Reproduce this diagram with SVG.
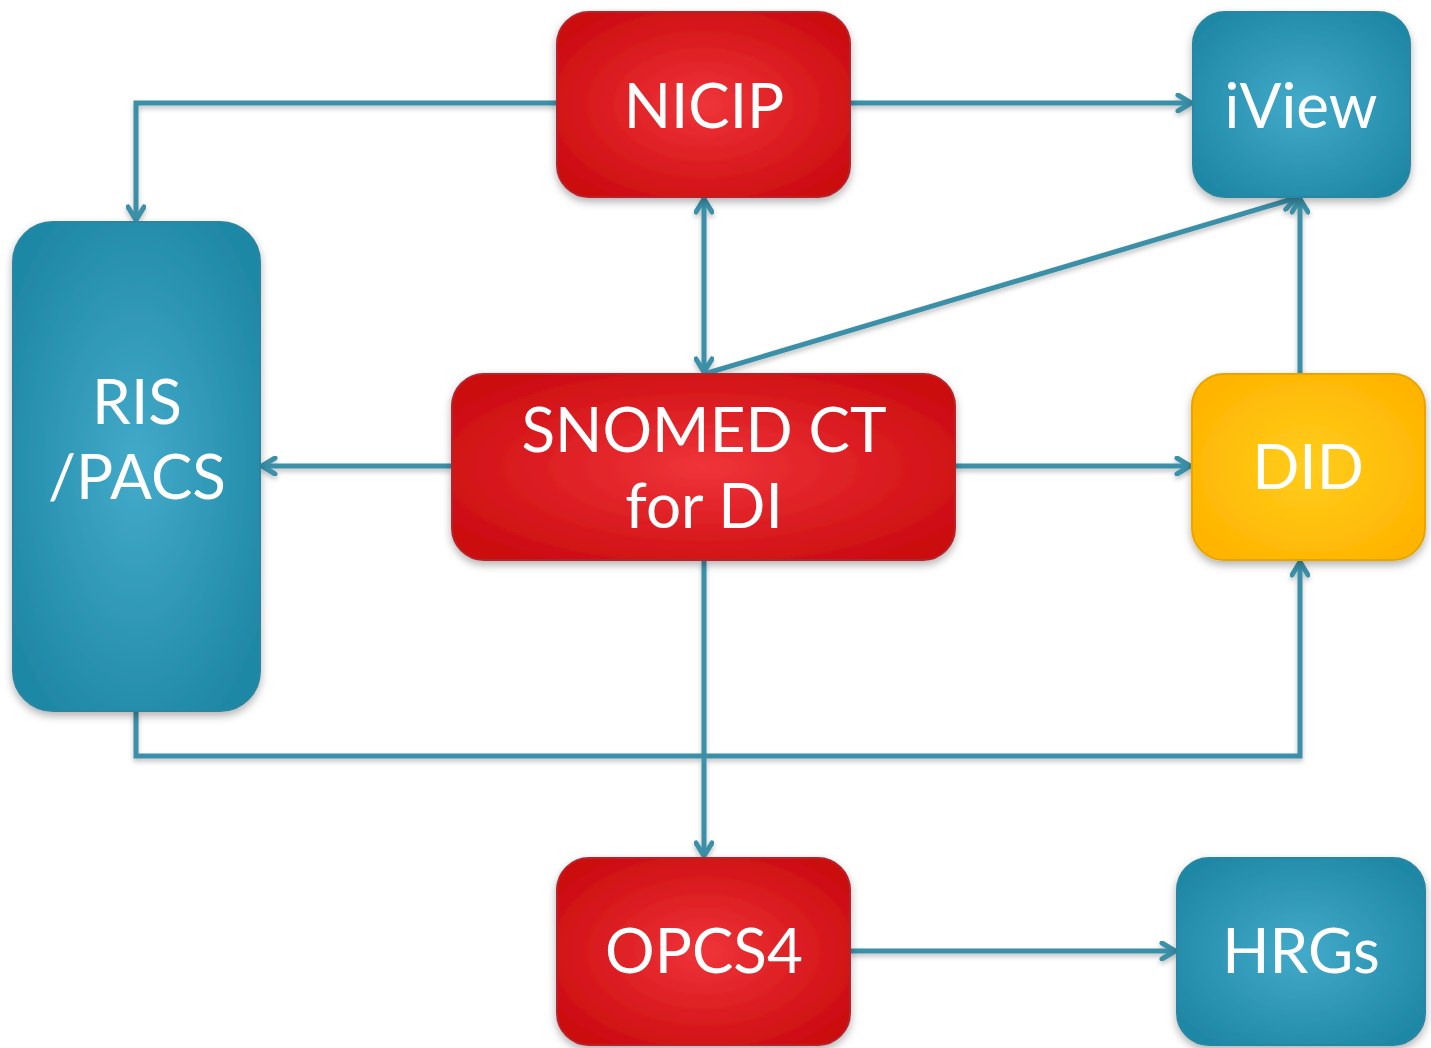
<svg xmlns="http://www.w3.org/2000/svg" width="1431" height="1048" viewBox="0 0 1431 1048">
<style>
.lbl{font-family:Lato,"Open Sans","Liberation Sans",sans-serif;font-size:62px;fill:#fff;text-anchor:middle}
.con{fill:none;stroke:#3a90a8;stroke-width:5}
.red{fill:url(#gRed);stroke:#b8232a;stroke-width:2}
.blue{fill:url(#gBlue);stroke:#2a86a0;stroke-width:2}
.yel{fill:url(#gYel);stroke:#e8a500;stroke-width:2}
</style>
<defs>
<radialGradient id="gRed" cx="0.5" cy="0.5" r="0.6"><stop offset="0" stop-color="#ef3439"/><stop offset="1" stop-color="#cc0c10"/></radialGradient>
<radialGradient id="gBlue" cx="0.5" cy="0.5" r="0.6"><stop offset="0" stop-color="#43aaca"/><stop offset="1" stop-color="#1f88a6"/></radialGradient>
<radialGradient id="gYel" cx="0.5" cy="0.5" r="0.6"><stop offset="0" stop-color="#ffcd1c"/><stop offset="1" stop-color="#ffb400"/></radialGradient>
<filter id="sh" x="-10%" y="-10%" width="120%" height="130%"><feDropShadow dx="0" dy="4" stdDeviation="4" flood-color="#000" flood-opacity="0.3"/></filter>
<filter id="lsh" x="-5%" y="-5%" width="110%" height="120%"><feDropShadow dx="0" dy="3" stdDeviation="2.5" flood-color="#000" flood-opacity="0.25"/></filter>
<marker id="ah" viewBox="0 0 20 20" refX="17" refY="10" markerWidth="20" markerHeight="20" markerUnits="userSpaceOnUse" orient="auto-start-reverse"><path d="M4,2 L17,10 L4,18" fill="none" stroke="#3a90a8" stroke-width="5" stroke-linecap="round" stroke-linejoin="round"/></marker>
</defs>
<g id="connectors" filter="url(#lsh)">
<path class="con" d="M557,103 H136 V220" marker-end="url(#ah)"/>
<path class="con" d="M850,103 H1191" marker-end="url(#ah)"/>
<path class="con" d="M704,199 V372" marker-start="url(#ah)" marker-end="url(#ah)"/>
<path class="con" d="M704,374 L1296,198" marker-end="url(#ah)"/>
<path class="con" d="M452,466 H262" marker-end="url(#ah)"/>
<path class="con" d="M955,466 H1190" marker-end="url(#ah)"/>
<path class="con" d="M1300,374 V199" marker-end="url(#ah)"/>
<path class="con" d="M136,711 V756 H1300 V562" marker-end="url(#ah)"/>
<path class="con" d="M704,560 V856" marker-end="url(#ah)"/>
<path class="con" d="M850,951 H1175" marker-end="url(#ah)"/>
</g>
<g id="nicip" filter="url(#sh)"><rect class="red" x="557" y="12" width="293" height="185" rx="32"/><text class="lbl" x="704" y="128">NICIP</text></g>
<g id="iview" filter="url(#sh)"><rect class="blue" x="1193" y="12" width="217" height="185" rx="32"/><text class="lbl" x="1301" y="128">iView</text></g>
<g id="rispacs" filter="url(#sh)"><rect class="blue" x="13" y="222" width="247" height="489" rx="40"/><text class="lbl" x="137" y="424">RIS</text><text class="lbl" x="137" y="499">/PACS</text></g>
<g id="snomed" filter="url(#sh)"><rect class="red" x="452" y="374" width="503" height="186" rx="32"/><text class="lbl" x="704" y="452">SNOMED CT</text><text class="lbl" x="704" y="528">for DI</text></g>
<g id="did" filter="url(#sh)"><rect class="yel" x="1192" y="374" width="233" height="186" rx="32"/><text class="lbl" x="1308" y="489">DID</text></g>
<g id="opcs4" filter="url(#sh)"><rect class="red" x="557" y="858" width="293" height="187" rx="32"/><text class="lbl" x="704" y="973">OPCS4</text></g>
<g id="hrgs" filter="url(#sh)"><rect class="blue" x="1177" y="858" width="248" height="187" rx="32"/><text class="lbl" x="1301" y="973">HRGs</text></g>
</svg>
